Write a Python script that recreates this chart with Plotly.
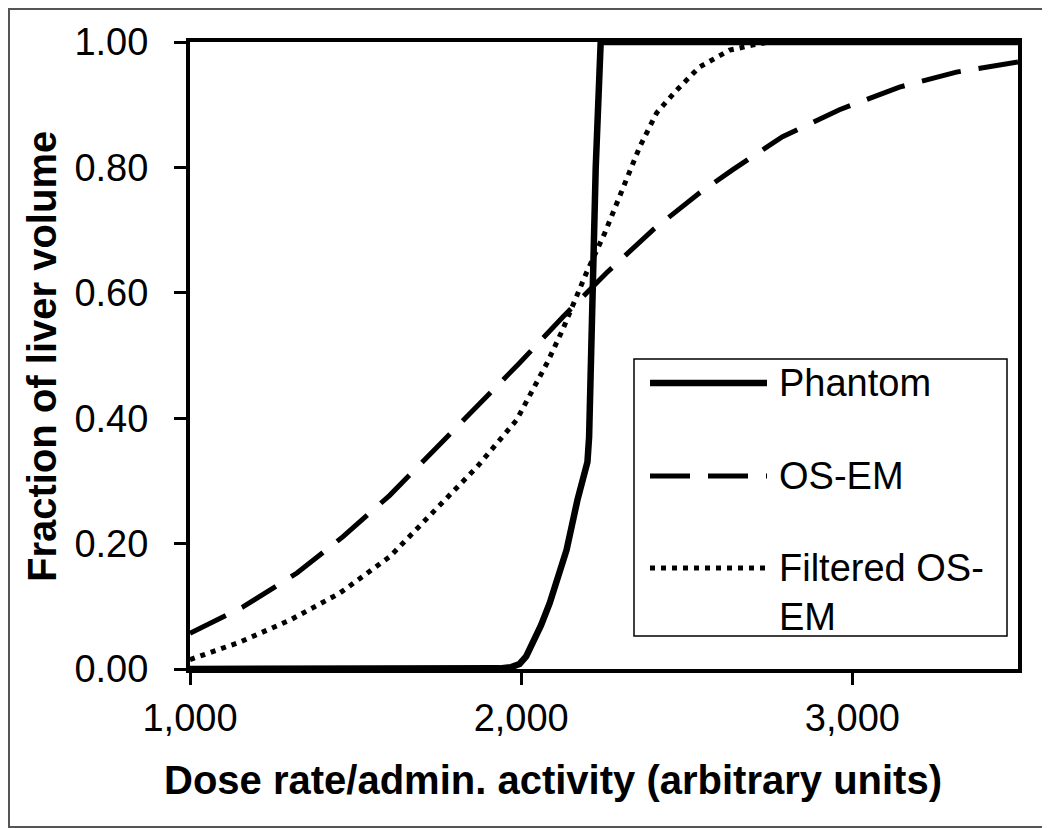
import plotly.graph_objects as go

# ---- data ----
phantom_x = [1000, 1900, 1935, 1970, 1995, 2015, 2035, 2060, 2086, 2110, 2137, 2170, 2190, 2200, 2205, 2208, 2213, 2225, 2240, 3500]
phantom_y = [0.0, 0.0, 0.001, 0.003, 0.008, 0.02, 0.041, 0.07, 0.105, 0.145, 0.19, 0.27, 0.305, 0.33, 0.37, 0.45, 0.60, 0.80, 1.0, 1.0]

osem_x = [1000, 1160, 1323, 1462, 1603, 1866, 1995, 2125, 2258, 2397, 2538, 2638, 2789, 2961, 3142, 3314, 3500]
osem_y = [0.057, 0.099, 0.153, 0.211, 0.277, 0.418, 0.488, 0.561, 0.632, 0.700, 0.759, 0.796, 0.849, 0.892, 0.928, 0.952, 0.968]

filt_x = [1000, 1151, 1302, 1452, 1603, 1733, 1866, 1986, 2080, 2125, 2197, 2252, 2306, 2358, 2409, 2469, 2538, 2629, 2698, 2750, 3500]
filt_y = [0.015, 0.043, 0.078, 0.121, 0.179, 0.249, 0.322, 0.397, 0.49, 0.541, 0.632, 0.695, 0.764, 0.833, 0.887, 0.923, 0.960, 0.987, 0.995, 1.0, 1.0]

series_names = ["Phantom", "OS-EM", "Filtered OS-<br>EM"]
x_ticks = [1000, 2000, 3000]
y_ticks = [0.0, 0.2, 0.4, 0.6, 0.8, 1.0]
x_title = "Dose rate/admin. activity (arbitrary units)"
y_title = "Fraction of liver volume"

# ---- layout geometry (page pixels of the reference; page body has an 8px offset) ----
OFF = 8
W, H = 1050 - OFF, 828 - OFF
L, R, T, B = 190, 1018, 42, 669  # plot area in page coords
PW, PH = R - L, B - T

def px(xp):
    return (xp - L) / PW

def py(yp):
    return (B - yp) / PH

FONT = "Liberation Sans, Arial, sans-serif"
styles = [
    dict(color="black", width=6.5, dash="solid"),
    dict(color="black", width=5, dash="40px,18px"),
    dict(color="black", width=5, dash="5px,6px"),
]

fig = go.Figure()
for xs, ys, nm, st in zip([phantom_x, osem_x, filt_x], [phantom_y, osem_y, filt_y], series_names, styles):
    fig.add_trace(go.Scatter(x=xs, y=ys, mode="lines", name=nm, line=st, showlegend=False))

# ---- custom legend ----
shapes = []
annotations = []
shapes.append(dict(type="rect", xref="paper", yref="paper",
                   x0=px(634), x1=px(1007), y0=py(636), y1=py(359),
                   line=dict(color="black", width=1.5), fillcolor="white", layer="above"))
legend_rows = [383, 476, 568]
for row_y, st, nm in zip(legend_rows, styles, series_names):
    shapes.append(dict(type="line", xref="paper", yref="paper",
                       x0=px(650), x1=px(767), y0=py(row_y), y1=py(row_y),
                       line=st, layer="above"))
    annotations.append(dict(xref="paper", yref="paper", x=px(777), y=py(row_y),
                            text=nm, showarrow=False, xanchor="left",
                            yanchor="top" if "<br>" in nm else "middle",
                            yshift=23 if "<br>" in nm else 0,
                            align="left",
                            font=dict(family=FONT, size=38, color="black")))

# axis titles (positioned as in the reference)
annotations.append(dict(xref="paper", yref="paper", x=px(553), y=py(780),
                        text="<b>" + x_title + "</b>", showarrow=False,
                        xanchor="center", yanchor="middle",
                        font=dict(family=FONT, size=40, color="black")))
annotations.append(dict(xref="paper", yref="paper", x=px(42), y=py(357),
                        text="<b>" + y_title + "</b>", showarrow=False, textangle=-90,
                        xanchor="center", yanchor="middle",
                        font=dict(family=FONT, size=40, color="black")))

# image border
shapes.append(dict(type="rect", xref="paper", yref="paper",
                   x0=px(OFF + 1), x1=px(1049), y0=py(827), y1=py(OFF + 1),
                   line=dict(color="#555555", width=2), layer="above"))

fig.update_layout(
    width=W, height=H,
    margin=dict(l=L - OFF, r=1050 - R, t=T - OFF, b=828 - B, pad=0),
    paper_bgcolor="white", plot_bgcolor="white",
    font=dict(family=FONT, size=38, color="black"),
    showlegend=False,
    shapes=shapes,
    annotations=annotations,
)
fig.update_xaxes(
    range=[1000, 3500], tickvals=x_ticks, tickformat=",d",
    showgrid=False, zeroline=False,
    showline=True, linecolor="black", linewidth=4, mirror=True,
    ticks="outside", ticklen=12, tickwidth=3, tickcolor="black",
    ticklabelstandoff=0,
    tickfont=dict(family=FONT, size=38),
)
fig.update_yaxes(
    range=[0, 1], tickvals=y_ticks, tickformat=".2f",
    showgrid=False, zeroline=False,
    showline=True, linecolor="black", linewidth=4, mirror=True,
    ticks="outside", ticklen=12, tickwidth=3, tickcolor="black",
    ticklabelstandoff=18,
    tickfont=dict(family=FONT, size=38),
)

fig.write_html("out.html")
